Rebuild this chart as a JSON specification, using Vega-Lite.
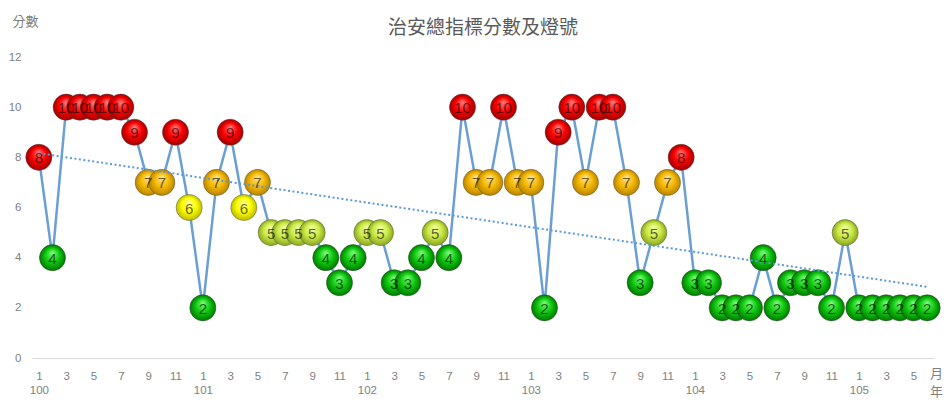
{
  "$schema": "https://vega.github.io/schema/vega-lite/v6.json",
  "width": 902,
  "height": 301,
  "autosize": {"type": "none"},
  "padding": {"left": 32, "top": 57, "right": 16, "bottom": 55},
  "background": "white",
  "config": {"view": {"stroke": null}},
  "title": {"text": "治安總指標分數及燈號", "font": "Noto Sans CJK TC", "fontSize": 19, "fontWeight": "normal", "color": "#595959", "anchor": "middle", "offset": -23},
  "data": {"values": [
    {"year": 100, "month": 1, "t": 1, "score": 8},
    {"year": 100, "month": 2, "t": 2, "score": 4},
    {"year": 100, "month": 3, "t": 3, "score": 10},
    {"year": 100, "month": 4, "t": 4, "score": 10},
    {"year": 100, "month": 5, "t": 5, "score": 10},
    {"year": 100, "month": 6, "t": 6, "score": 10},
    {"year": 100, "month": 7, "t": 7, "score": 10},
    {"year": 100, "month": 8, "t": 8, "score": 9},
    {"year": 100, "month": 9, "t": 9, "score": 7},
    {"year": 100, "month": 10, "t": 10, "score": 7},
    {"year": 100, "month": 11, "t": 11, "score": 9},
    {"year": 100, "month": 12, "t": 12, "score": 6},
    {"year": 101, "month": 1, "t": 13, "score": 2},
    {"year": 101, "month": 2, "t": 14, "score": 7},
    {"year": 101, "month": 3, "t": 15, "score": 9},
    {"year": 101, "month": 4, "t": 16, "score": 6},
    {"year": 101, "month": 5, "t": 17, "score": 7},
    {"year": 101, "month": 6, "t": 18, "score": 5},
    {"year": 101, "month": 7, "t": 19, "score": 5},
    {"year": 101, "month": 8, "t": 20, "score": 5},
    {"year": 101, "month": 9, "t": 21, "score": 5},
    {"year": 101, "month": 10, "t": 22, "score": 4},
    {"year": 101, "month": 11, "t": 23, "score": 3},
    {"year": 101, "month": 12, "t": 24, "score": 4},
    {"year": 102, "month": 1, "t": 25, "score": 5},
    {"year": 102, "month": 2, "t": 26, "score": 5},
    {"year": 102, "month": 3, "t": 27, "score": 3},
    {"year": 102, "month": 4, "t": 28, "score": 3},
    {"year": 102, "month": 5, "t": 29, "score": 4},
    {"year": 102, "month": 6, "t": 30, "score": 5},
    {"year": 102, "month": 7, "t": 31, "score": 4},
    {"year": 102, "month": 8, "t": 32, "score": 10},
    {"year": 102, "month": 9, "t": 33, "score": 7},
    {"year": 102, "month": 10, "t": 34, "score": 7},
    {"year": 102, "month": 11, "t": 35, "score": 10},
    {"year": 102, "month": 12, "t": 36, "score": 7},
    {"year": 103, "month": 1, "t": 37, "score": 7},
    {"year": 103, "month": 2, "t": 38, "score": 2},
    {"year": 103, "month": 3, "t": 39, "score": 9},
    {"year": 103, "month": 4, "t": 40, "score": 10},
    {"year": 103, "month": 5, "t": 41, "score": 7},
    {"year": 103, "month": 6, "t": 42, "score": 10},
    {"year": 103, "month": 7, "t": 43, "score": 10},
    {"year": 103, "month": 8, "t": 44, "score": 7},
    {"year": 103, "month": 9, "t": 45, "score": 3},
    {"year": 103, "month": 10, "t": 46, "score": 5},
    {"year": 103, "month": 11, "t": 47, "score": 7},
    {"year": 103, "month": 12, "t": 48, "score": 8},
    {"year": 104, "month": 1, "t": 49, "score": 3},
    {"year": 104, "month": 2, "t": 50, "score": 3},
    {"year": 104, "month": 3, "t": 51, "score": 2},
    {"year": 104, "month": 4, "t": 52, "score": 2},
    {"year": 104, "month": 5, "t": 53, "score": 2},
    {"year": 104, "month": 6, "t": 54, "score": 4},
    {"year": 104, "month": 7, "t": 55, "score": 2},
    {"year": 104, "month": 8, "t": 56, "score": 3},
    {"year": 104, "month": 9, "t": 57, "score": 3},
    {"year": 104, "month": 10, "t": 58, "score": 3},
    {"year": 104, "month": 11, "t": 59, "score": 2},
    {"year": 104, "month": 12, "t": 60, "score": 5},
    {"year": 105, "month": 1, "t": 61, "score": 2},
    {"year": 105, "month": 2, "t": 62, "score": 2},
    {"year": 105, "month": 3, "t": 63, "score": 2},
    {"year": 105, "month": 4, "t": 64, "score": 2},
    {"year": 105, "month": 5, "t": 65, "score": 2},
    {"year": 105, "month": 6, "t": 66, "score": 2}
  ]},
  "encoding": {
    "x": {
      "field": "t", "type": "quantitative",
      "scale": {"domain": [0.5, 66.5], "nice": false, "zero": false},
      "axis": {
        "values": [1,3,5,7,9,11,13,15,17,19,21,23,25,27,29,31,33,35,37,39,41,43,45,47,49,51,53,55,57,59,61,63,65],
        "labelExpr": "((datum.value-1)%12==0) ? [''+((datum.value-1)%12+1), ''+(100+floor((datum.value-1)/12))] : ''+((datum.value-1)%12+1)",
        "labelFont": "Liberation Sans", "labelFontSize": 11.5, "labelColor": "#808080",
        "labelPadding": 12, "labelLineHeight": 14.5,
        "labelOverlap": false, "labelFlush": false, "labelBound": false,
        "ticks": false, "grid": false,
        "domainColor": "#d9d9d9", "domainWidth": 1,
        "title": ["月", "年"], "titleX": 904, "titleY": 9,
        "titleAlign": "center", "titleBaseline": "top",
        "titleFont": "Noto Sans CJK TC", "titleFontSize": 13, "titleFontWeight": "normal",
        "titleColor": "#808080", "titleLineHeight": 18
      }
    },
    "y": {
      "field": "score", "type": "quantitative",
      "scale": {"domain": [0, 12], "nice": false},
      "axis": {
        "values": [0, 2, 4, 6, 8, 10, 12],
        "labelFont": "Liberation Sans", "labelFontSize": 11.5, "labelColor": "#808080",
        "labelPadding": 11, "ticks": false, "grid": false, "domain": false,
        "title": "分數", "titleAngle": 0, "titleX": -20, "titleY": -36,
        "titleAlign": "left", "titleBaseline": "middle",
        "titleFont": "Noto Sans CJK TC", "titleFontSize": 13, "titleFontWeight": "normal", "titleColor": "#808080"
      }
    }
  },
  "layer": [
    {"mark": {"type": "line", "color": "#6a9fd4", "strokeWidth": 2.5}},
    {
      "transform": [{"filter": "datum.score >= 8"}],
      "mark": {"type": "circle", "size": 680, "opacity": 1, "stroke": "#5a3a3a", "strokeWidth": 1, "strokeOpacity": 0.55,
        "fill": {"gradient": "radial", "x1": 0.5, "y1": 0.3, "r1": 0, "x2": 0.5, "y2": 0.5, "r2": 0.5,
          "stops": [{"offset": 0, "color": "#ff8080"}, {"offset": 0.55, "color": "#ff0000"}, {"offset": 1, "color": "#a00000"}]}}
    },
    {
      "transform": [{"filter": "datum.score == 7"}],
      "mark": {"type": "circle", "size": 680, "opacity": 1, "stroke": "#6a5a3a", "strokeWidth": 1, "strokeOpacity": 0.55,
        "fill": {"gradient": "radial", "x1": 0.5, "y1": 0.3, "r1": 0, "x2": 0.5, "y2": 0.5, "r2": 0.5,
          "stops": [{"offset": 0, "color": "#ffe699"}, {"offset": 0.55, "color": "#f5b800"}, {"offset": 1, "color": "#b88400"}]}}
    },
    {
      "transform": [{"filter": "datum.score == 6"}],
      "mark": {"type": "circle", "size": 680, "opacity": 1, "stroke": "#6a6a3a", "strokeWidth": 1, "strokeOpacity": 0.55,
        "fill": {"gradient": "radial", "x1": 0.5, "y1": 0.3, "r1": 0, "x2": 0.5, "y2": 0.5, "r2": 0.5,
          "stops": [{"offset": 0, "color": "#ffffa0"}, {"offset": 0.55, "color": "#ffff00"}, {"offset": 1, "color": "#bcbc00"}]}}
    },
    {
      "transform": [{"filter": "datum.score == 5"}],
      "mark": {"type": "circle", "size": 680, "opacity": 1, "stroke": "#5a6a3a", "strokeWidth": 1, "strokeOpacity": 0.55,
        "fill": {"gradient": "radial", "x1": 0.5, "y1": 0.3, "r1": 0, "x2": 0.5, "y2": 0.5, "r2": 0.5,
          "stops": [{"offset": 0, "color": "#f2ffa8"}, {"offset": 0.55, "color": "#cdea48"}, {"offset": 1, "color": "#8aa620"}]}}
    },
    {
      "transform": [{"filter": "datum.score <= 4"}],
      "mark": {"type": "circle", "size": 680, "opacity": 1, "stroke": "#2a4a2a", "strokeWidth": 1, "strokeOpacity": 0.55,
        "fill": {"gradient": "radial", "x1": 0.5, "y1": 0.3, "r1": 0, "x2": 0.5, "y2": 0.5, "r2": 0.5,
          "stops": [{"offset": 0, "color": "#7dff7d"}, {"offset": 0.55, "color": "#10c810"}, {"offset": 1, "color": "#007a00"}]}}
    },
    {
      "transform": [{"regression": "score", "on": "t"}],
      "mark": {"type": "line", "color": "#5b9bd5", "strokeWidth": 2, "strokeDash": [2, 2.5]}
    },
    {
      "mark": {"type": "text", "font": "Liberation Sans", "fontSize": 15, "color": "#000000", "opacity": 0.6, "align": "center", "baseline": "middle", "dy": 1},
      "encoding": {"text": {"field": "score", "type": "quantitative"}}
    }
  ]
}
